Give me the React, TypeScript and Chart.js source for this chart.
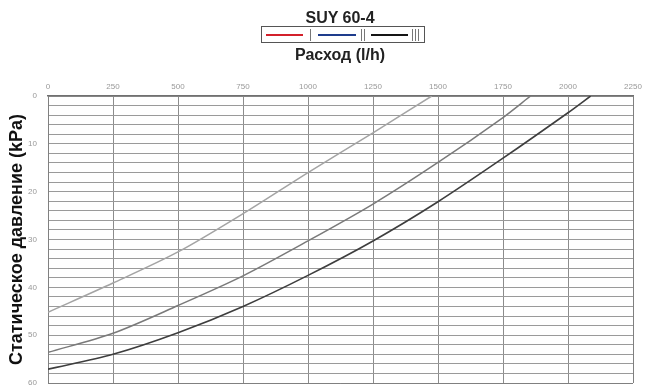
import React, { useEffect, useRef } from "react";
import { Chart, registerables } from "chart.js";

Chart.register(...registerables);

const xTicks = [0, 250, 500, 750, 1000, 1250, 1500, 1750, 2000, 2250];
const yTicks = [0, 2, 4, 6, 8, 10, 12, 14, 16, 18, 20, 22, 24, 26, 28, 30, 32, 34, 36, 38, 40, 42, 44, 46, 48, 50, 52, 54, 56, 58, 60];
const curveIx = [0, 250, 500, 750, 1000, 1250, 1476];
const curveIy = [45.2, 39.1, 32.6, 24.6, 16.0, 7.7, 0];
const curveIIx = [0, 250, 500, 750, 1000, 1250, 1500, 1750, 1856];
const curveIIy = [53.6, 49.6, 43.8, 37.6, 30.3, 22.6, 13.9, 4.5, 0];
const curveIIIx = [0, 250, 500, 750, 1000, 1250, 1500, 1750, 2000, 2087];
const curveIIIy = [57.1, 54.0, 49.5, 44.0, 37.5, 30.3, 22.1, 13.0, 3.5, 0];

const title = "SUY 60-4";
const xTitle = "Расход (l/h)";
const yTitle = "Статическое давление (kPa)";

const pts = (xs: number[], ys: number[]) => xs.map((x, i) => ({ x, y: ys[i] }));

export default function App() {
  const ref = useRef<HTMLCanvasElement>(null);
  useEffect(() => {
    document.body.style.margin = "0";
    const ctx = ref.current!;
    const mk = (label: string, xs: number[], ys: number[], color: string, w: number) => ({
      label,
      data: pts(xs, ys),
      borderColor: color,
      borderWidth: w,
      pointRadius: 0,
      fill: false,
      tension: 0.3,
    });
    const chart = new Chart(ctx, {
      type: "line",
      data: {
        datasets: [
          mk("I", curveIx, curveIy, "#a4a4a4", 1.5),
          mk("II", curveIIx, curveIIy, "#7a7a7a", 1.5),
          mk("III", curveIIIx, curveIIIy, "#3e3e3e", 1.6),
        ],
      },
      options: {
        animation: false,
        responsive: false,
        maintainAspectRatio: false,
        layout: { padding: { left: 0, top: 74, right: 22, bottom: 6 } },
        plugins: { legend: { display: false }, tooltip: { enabled: false } },
        scales: {
          x: {
            type: "linear",
            position: "top",
            min: 0,
            max: 2250,
            afterBuildTicks: (s: any) => {
              s.ticks = xTicks.map((v) => ({ value: v }));
            },
            afterFit: (s: any) => {
              s.height = 22;
              s.paddingLeft = 0;
              s.paddingRight = 0;
            },
            ticks: {
              color: "#999",
              font: { family: "Arial, Liberation Sans", size: 8 },
              padding: 4,
              maxRotation: 0,
              autoSkip: false,
              callback: (v: any) => String(v),
            },
            grid: { color: "#8c8c8c", lineWidth: 1, drawTicks: false },
            border: { color: "#707070", width: 1.5 },
          },
          y: {
            type: "linear",
            reverse: true,
            min: 0,
            max: 60,
            afterBuildTicks: (s: any) => {
              s.ticks = yTicks.map((v) => ({ value: v }));
            },
            afterFit: (s: any) => {
              s.width = 48;
              s.paddingTop = 0;
              s.paddingBottom = 0;
            },
            ticks: {
              autoSkip: false,
              color: "#999",
              font: { family: "Arial, Liberation Sans", size: 8 },
              padding: 11,
              callback: (v: any) => (Number(v) % 10 === 0 ? String(v) : ""),
            },
            grid: { color: "#9a9a9a", lineWidth: 1, drawTicks: false },
            border: { color: "#808080", width: 1 },
            title: {
              display: true,
              text: yTitle,
              color: "#111",
              font: { family: "Arial, Liberation Sans", size: 18, weight: "bold" },
              padding: { top: 6, bottom: 0 },
            },
          },
        },
      },
      plugins: [
        {
          id: "rightBorder",
          afterDraw: (c: any) => {
            const a = c.chartArea;
            const g = c.ctx;
            g.save();
            g.strokeStyle = "#808080";
            g.lineWidth = 1;
            g.beginPath();
            g.moveTo(a.right + 0.5, a.top);
            g.lineTo(a.right + 0.5, a.bottom);
            g.moveTo(a.left, a.bottom + 0.5);
            g.lineTo(a.right, a.bottom + 0.5);
            g.stroke();
            g.restore();
          },
        },
      ],
    });
    return () => chart.destroy();
  }, []);

  const font = "Arial, 'Liberation Sans', sans-serif";
  const lineSeg = (left: number, width: number, color: string) => (
    <div style={{ position: "absolute", left, top: 34, width, height: 2, background: color }} />
  );
  const bars = (left: number, n: number) =>
    Array.from({ length: n }).map((_, i) => (
      <div
        key={i}
        style={{ position: "absolute", left: left + i * 3, top: 29, width: 1.3, height: 12, background: "#777" }}
      />
    ));

  return (
    <div style={{ position: "fixed", left: 0, top: 0, width: 655, height: 389, background: "#fff" }}>
      <canvas ref={ref} width={655} height={389} style={{ position: "absolute", left: 0, top: 0 }} />
      <div
        style={{
          position: "absolute",
          left: 240,
          width: 200,
          top: 9,
          textAlign: "center",
          fontFamily: font,
          fontWeight: "bold",
          fontSize: 16,
          color: "#222",
          lineHeight: "18px",
        }}
      >
        {title}
      </div>
      <div
        style={{
          position: "absolute",
          left: 261,
          top: 26,
          width: 164,
          height: 17,
          border: "1px solid #555",
          boxSizing: "border-box",
        }}
      />
      {lineSeg(266, 37, "#d3202b")}
      {bars(310, 1)}
      {lineSeg(318, 38, "#1e3c8c")}
      {bars(361, 2)}
      {lineSeg(371, 37, "#151515")}
      {bars(412, 3)}
      <div
        style={{
          position: "absolute",
          left: 240,
          width: 200,
          top: 46,
          textAlign: "center",
          fontFamily: font,
          fontWeight: "bold",
          fontSize: 16,
          color: "#222",
          lineHeight: "18px",
        }}
      >
        {xTitle}
      </div>
    </div>
  );
}
